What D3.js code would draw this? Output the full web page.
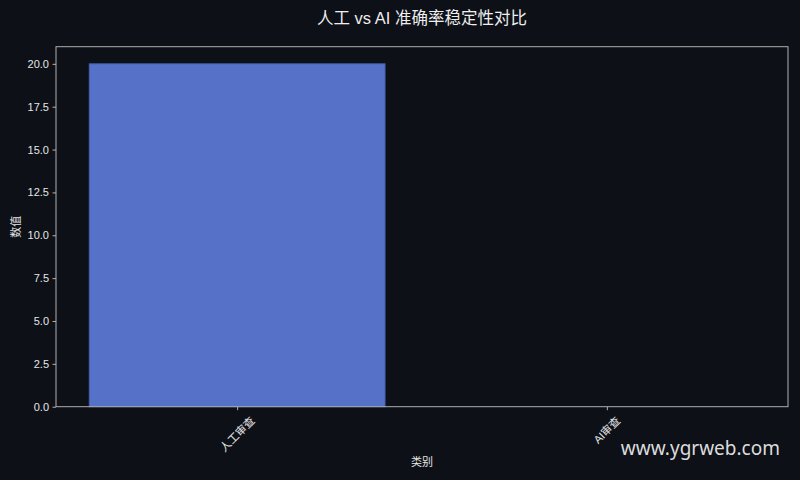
<!DOCTYPE html>
<html><head><meta charset="utf-8">
<script src="https://cdn.jsdelivr.net/npm/d3@7"></script>
<style>html,body{margin:0;padding:0;background:#0d1017;}</style>
</head><body>
<svg id="c" width="800" height="480"></svg>
<script>
const categories = ["人工审查", "AI审查"];
const values = [20, 0];
const yTicks = [0, 2.5, 5, 7.5, 10, 12.5, 15, 17.5, 20];
const title = "人工 vs AI 准确率稳定性对比";
const xLabel = "类别";
const yLabel = "数值";
const watermark = "www.ygrweb.com";

const W = 800, H = 480;
const m = {left: 56, right: 12, top: 46.7, bottom: 73.3};
const font = "'Liberation Sans', 'Noto Sans CJK SC', sans-serif";
const svg = d3.select("#c");
svg.append("rect").attr("width", W).attr("height", H).attr("fill", "#0d1017");

const x0 = m.left, x1 = W - m.right, yTop = m.top, yBot = H - m.bottom;
const x = d3.scaleLinear().domain([-0.49, categories.length - 1 + 0.49]).range([x0, x1]);
const y = d3.scaleLinear().domain([0, 21]).range([yBot, yTop]);
const bw = x(0.4) - x(-0.4);

svg.append("g").selectAll("rect").data(values).join("rect")
  .attr("x", (d, i) => x(i) - bw / 2)
  .attr("width", bw)
  .attr("y", d => y(d))
  .attr("height", d => y(0) - y(d))
  .attr("fill", "#5571c8")
  .attr("stroke", "#4560b0")
  .attr("stroke-width", 1);

svg.append("rect").attr("x", x0).attr("y", yTop).attr("width", x1 - x0).attr("height", yBot - yTop)
  .attr("fill", "none").attr("stroke", "#b0b0b0").attr("stroke-width", 1);

const yAxis = d3.axisLeft(y).tickValues(yTicks).tickFormat(d3.format(".1f")).tickSize(3.5).tickPadding(3.5);
const gy = svg.append("g").attr("transform", `translate(${x0},0)`).call(yAxis);
gy.select(".domain").remove();
gy.selectAll("line").attr("stroke", "#b0b0b0");
gy.selectAll("text").attr("fill", "#e6e6e6").attr("font-size", 11).attr("font-family", font);

const xAxis = d3.axisBottom(x).tickValues(categories.map((c, i) => i)).tickFormat("").tickSize(3.5);
const gx = svg.append("g").attr("transform", `translate(0,${yBot})`).call(xAxis);
gx.select(".domain").remove();
gx.selectAll("line").attr("stroke", "#b0b0b0");

categories.forEach((c, i) => {
  const t = svg.append("text").text(c)
    .attr("font-size", 11).attr("font-family", font).attr("fill", "#e6e6e6")
    .attr("text-anchor", "middle").attr("dominant-baseline", "central");
  const len = t.node().getComputedTextLength();
  const h = 11;
  const half = (len * Math.SQRT1_2 + h * Math.SQRT1_2) / 2;
  const cy = yBot + 8 + half;
  t.attr("transform", `translate(${x(i)},${cy}) rotate(-45)`);
});

svg.append("text").text(title).attr("x", (x0 + x1) / 2).attr("y", 24)
  .attr("text-anchor", "middle").attr("fill", "#eeeeee").attr("font-size", 16.5).attr("font-family", font);
svg.append("text").text(xLabel).attr("x", (x0 + x1) / 2).attr("y", 462)
  .attr("text-anchor", "middle").attr("dominant-baseline", "central").attr("fill", "#e6e6e6").attr("font-size", 11).attr("font-family", font);
svg.append("text").text(yLabel).attr("transform", `translate(16,${(yTop + yBot) / 2}) rotate(-90)`)
  .attr("text-anchor", "middle").attr("dominant-baseline", "central").attr("fill", "#e6e6e6").attr("font-size", 11).attr("font-family", font);
svg.append("text").text(watermark).attr("x", 780).attr("y", 455)
  .attr("text-anchor", "end").attr("fill", "#dcdcdc").attr("font-size", 19)
  .attr("font-family", "'Noto Sans', 'Open Sans', sans-serif");
</script>
</body></html>
